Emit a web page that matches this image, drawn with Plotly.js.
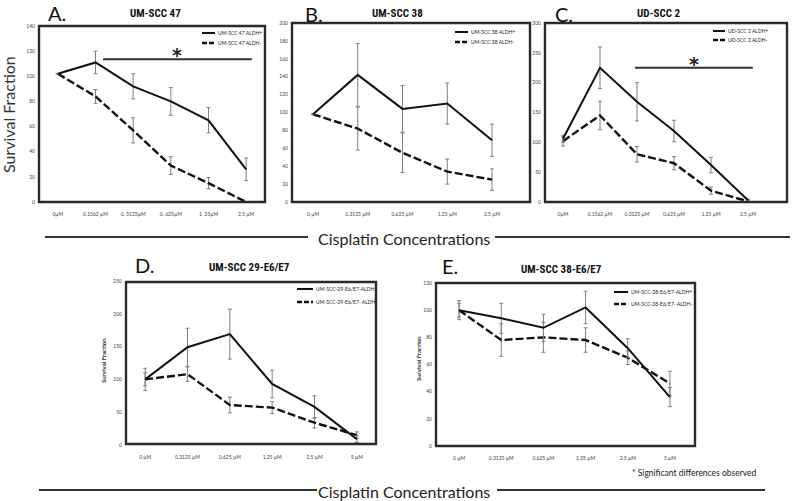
<!DOCTYPE html>
<html><head><meta charset="utf-8">
<script src="https://cdn.plot.ly/plotly-3.0.1.min.js"></script>
<style>html,body{margin:0;padding:0;background:#fff}#chart{width:800px;height:501px}</style>
</head><body><div id="chart"></div>
<script>
// ---------- DATA ----------
const catsA = ["0µM", "0.1562 µM", "0. 3125µM", "0. 625µM", "1. 25µM", "2.5 µM"];
const catsB = ["0 µM", "0.3125 µM", "0.625 µM", "1.25 µM", "2.5 µM"];
const catsC = ["0µM", "0.1562 µM", "0.3125 µM", "0.625 µM", "1.25 µM", "2.5 µM"];
const catsD = ["0 µM", "0.3125 µM", "0.625 µM", "1.25 µM", "2.5 µM", "5 µM"];
const catsE = ["0 µM", "0.3125 µM", "0.625 µM", "1.25 µM", "2.5 µM", "5 µM"];

const posA = [102, 111, 92, 80, 65, 26];
const posErrA = [0, 9, 10, 11, 10, 9];
const negA = [102, 84, 57, 29, 15, 0];
const negErrA = [0, 5.5, 10, 7, 4.5, 0];

const posB = [98, 142, 104, 110, 69];
const posErrB = [0, 35, 26, 23, 18];
const negB = [98, 82, 55, 34, 25];
const negErrB = [0, 24, 22, 14, 12];

const posC = [106, 225, 168, 119, 62, 3];
const posErrC = [6, 35, 32, 18, 13, 2];
const negC = [102, 145, 80, 65, 19, 1];
const negErrC = [8, 24, 13, 11, 6, 2];

const posD = [100, 149, 169, 93, 58, 9];
const posErrD = [17, 29, 38, 21, 17, 5];
const negD = [100, 108, 61, 57, 34, 15];
const negErrD = [10, 11, 12, 9, 8, 5];

const posE = [100, 94, 87, 102, 72, 36];
const posErrE = [5, 11, 10, 12, 7, 7];
const negE = [100, 78, 80, 78, 65, 46];
const negErrE = [7, 12, 11, 9, 5, 9];

const titles = ["UM-SCC 47", "UM-SCC 38", "UD-SCC 2", "UM-SCC 29-E6/E7", "UM-SCC 38-E6/E7"];
const letters = ["A.", "B.", "C.", "D.", "E."];
const legendPos = ["UM-SCC 47 ALDH+", "UM-SCC 38 ALDH+", "UD-SCC 2 ALDH+", "UM-SCC-29-E6/E7-ALDH+", "UM-SCC-38-E6/E7-ALDH+"];
const legendNeg = ["UM-SCC 47 ALDH-", "UM-SCC 38 ALDH-", "UD-SCC 2 ALDH-", "UM-SCC-29-E6/E7- ALDH-", "UM-SCC-38-E6/E7- ALDH-"];
const yMax = [140, 200, 300, 250, 120];
const yStep = [20, 20, 50, 50, 20];

// significance bars: [x start (category), x end, y value]
const sigA = [1.2, 5.15, 113.5];
const sigC = [1.95, 5.13, 225];

// ---------- LAYOUT GEOMETRY (pixels) ----------
const W = 800, H = 501;
const px = x => x / W;
const py = y => 1 - y / H;
const geo = [
  {frame:[39,26,265,202], xdom:[39,265], ydom:[26,202], ttl:[155,13], let:[57,13], leg:[202,215,33,43], sf:null},
  {frame:[292,23,530,202], xdom:[290.6,514.4], ydom:[23,202], ttl:[397,13], let:[314,14], leg:[455,468,32,42], sf:null},
  {frame:[545,23,787,202], xdom:[544.5,766.5], ydom:[23,202], ttl:[658,13], let:[564,14], leg:[713,725,31,40], sf:null},
  {frame:[126,282,376,444], xdom:[124,378], ydom:[281,445], ttl:[249,267], let:[144,265], leg:[297,313,289,302], sf:[103,361]},
  {frame:[436,283,695,446], xdom:[438,691], ydom:[283,446], ttl:[561,269], let:[450,266], leg:[614,628,292,304], sf:[418,359]}
];

const cats = [catsA, catsB, catsC, catsD, catsE];
const pos = [posA, posB, posC, posD, posE];
const posErr = [posErrA, posErrB, posErrC, posErrD, posErrE];
const neg = [negA, negB, negC, negD, negE];
const negErr = [negErrA, negErrB, negErrC, negErrD, negErrE];

const FONT = 'Lato, "Open Sans", sans-serif';
const NARROW = '"Liberation Sans Narrow", "Arial Narrow", "Roboto Condensed", sans-serif';
const DASH = '8px,3px';

const traces = [];
const layout = {
  width: W, height: H, margin: {l:0, r:0, t:0, b:0},
  paper_bgcolor: '#fff', plot_bgcolor: 'rgba(0,0,0,0)',
  showlegend: false, font: {family: FONT, color: '#333'},
  shapes: [], annotations: []
};

for (let i = 0; i < 5; i++) {
  const sfx = i === 0 ? '' : String(i + 1);
  const g = geo[i];
  const xa = 'x' + sfx, ya = 'y' + sfx;
  const errStyle = {type:'data', visible:true, color:'#808080', thickness:1, width:2};
  traces.push({
    x: cats[i], y: neg[i], xaxis: xa, yaxis: ya, type: 'scatter', mode: 'lines',
    line: {color:'#111', width:2.4, dash: DASH},
    error_y: Object.assign({array: negErr[i]}, errStyle), hoverinfo:'skip'
  });
  traces.push({
    x: cats[i], y: pos[i], xaxis: xa, yaxis: ya, type: 'scatter', mode: 'lines',
    line: {color:'#111', width:2},
    error_y: Object.assign({array: posErr[i]}, errStyle), hoverinfo:'skip'
  });
  layout['xaxis' + sfx] = {
    domain: [px(g.xdom[0]), px(g.xdom[1])], anchor: ya, type:'category',
    range: [-0.5, cats[i].length - 0.5], showgrid:false, zeroline:false, showline:false,
    ticks:'outside', ticklen:7, tickcolor:'rgba(0,0,0,0)',
    tickfont:{size:5, color:'#444', family: FONT}, tickangle:0, fixedrange:true
  };
  layout['yaxis' + sfx] = {
    domain: [py(g.ydom[1]), py(g.ydom[0])], anchor:'free', position: px(g.frame[0]),
    range: [0, yMax[i]], dtick: yStep[i], tick0:0, showgrid:false, zeroline:false, showline:false,
    ticks:'outside', ticklen:3, tickcolor:'rgba(0,0,0,0)',
    tickfont:{size:5, color:'#444', family: FONT}, fixedrange:true
  };
  // frame
  layout.shapes.push({type:'rect', xref:'paper', yref:'paper',
    x0:px(g.frame[0]), x1:px(g.frame[2]), y0:py(g.frame[3]), y1:py(g.frame[1]),
    line:{color:'#2a2a2a', width:2.4}, fillcolor:'rgba(0,0,0,0)'});
  // legend samples
  layout.shapes.push({type:'line', xref:'paper', yref:'paper',
    x0:px(g.leg[0]), x1:px(g.leg[1]), y0:py(g.leg[2]), y1:py(g.leg[2]), line:{color:'#111', width:2}});
  layout.shapes.push({type:'line', xref:'paper', yref:'paper',
    x0:px(g.leg[0]), x1:px(g.leg[1]), y0:py(g.leg[3]), y1:py(g.leg[3]), line:{color:'#111', width:2.4, dash:'5px,2px'}});
  layout.annotations.push({xref:'paper', yref:'paper', x:px(g.leg[1] + 1), y:py(g.leg[2]),
    xanchor:'left', yanchor:'middle', text:legendPos[i], showarrow:false, font:{size:5, color:'#222'}});
  layout.annotations.push({xref:'paper', yref:'paper', x:px(g.leg[1] + 1), y:py(g.leg[3]),
    xanchor:'left', yanchor:'middle', text:legendNeg[i], showarrow:false, font:{size:5, color:'#222'}});
  // titles
  layout.annotations.push({xref:'paper', yref:'paper', x:px(g.ttl[0]), y:py(g.ttl[1]),
    xanchor:'center', yanchor:'middle', text:'<b>' + titles[i] + '</b>', showarrow:false,
    font:{size:11, color:'#111', family: NARROW}});
  layout.annotations.push({xref:'paper', yref:'paper', x:px(g.let[0]), y:py(g.let[1]),
    xanchor:'center', yanchor:'middle', text:letters[i], showarrow:false,
    font:{size:20, color:'#111', family: FONT}});
  if (g.sf) {
    layout.annotations.push({xref:'paper', yref:'paper', x:px(g.sf[0]), y:py(g.sf[1]),
      xanchor:'center', yanchor:'middle', text:'<b>Survival Fraction</b>', textangle:-90, showarrow:false,
      font:{size:6, color:'#333'}});
  }
}

// significance bars
[[sigA, 'x', 'y'], [sigC, 'x3', 'y3']].forEach(([s, xr, yr]) => {
  layout.shapes.push({type:'line', xref:xr, yref:yr, x0:s[0], x1:s[1], y0:s[2], y1:s[2],
    line:{color:'#333', width:2}});
  layout.annotations.push({xref:xr, yref:yr, x:(s[0] + s[1]) / 2, y:s[2], yanchor:'bottom', yshift:-9,
    text:'<b>*</b>', showarrow:false, font:{size:19, color:'#222', family: '"DejaVu Sans", sans-serif'}});
});

// global labels
layout.annotations.push({xref:'paper', yref:'paper', x:px(9), y:py(115), xanchor:'center', yanchor:'middle',
  text:'Survival Fraction', textangle:-90, showarrow:false, font:{size:16, color:'#333', family: FONT}});
[[239, 45, 308, 495, 790, 237], [491, 39, 317, 497, 765, 490]].forEach(r => {
  layout.annotations.push({xref:'paper', yref:'paper', x:px(404), y:py(r[0]), xanchor:'center', yanchor:'middle',
    text:'Cisplatin Concentrations', showarrow:false, font:{size:16, color:'#222', family: FONT}});
  layout.shapes.push({type:'line', xref:'paper', yref:'paper', x0:px(r[1]), x1:px(r[2]), y0:py(r[5]), y1:py(r[5]),
    line:{color:'#333', width:2}});
  layout.shapes.push({type:'line', xref:'paper', yref:'paper', x0:px(r[3]), x1:px(r[4]), y0:py(r[5]), y1:py(r[5]),
    line:{color:'#333', width:2}});
});
layout.annotations.push({xref:'paper', yref:'paper', x:px(630), y:py(473), xanchor:'left', yanchor:'middle',
  text:'* Significant differences observed', showarrow:false, font:{size:8.5, color:'#222', family: FONT}});

Plotly.newPlot('chart', traces, layout, {staticPlot:true, displayModeBar:false});
</script>
</body></html>
